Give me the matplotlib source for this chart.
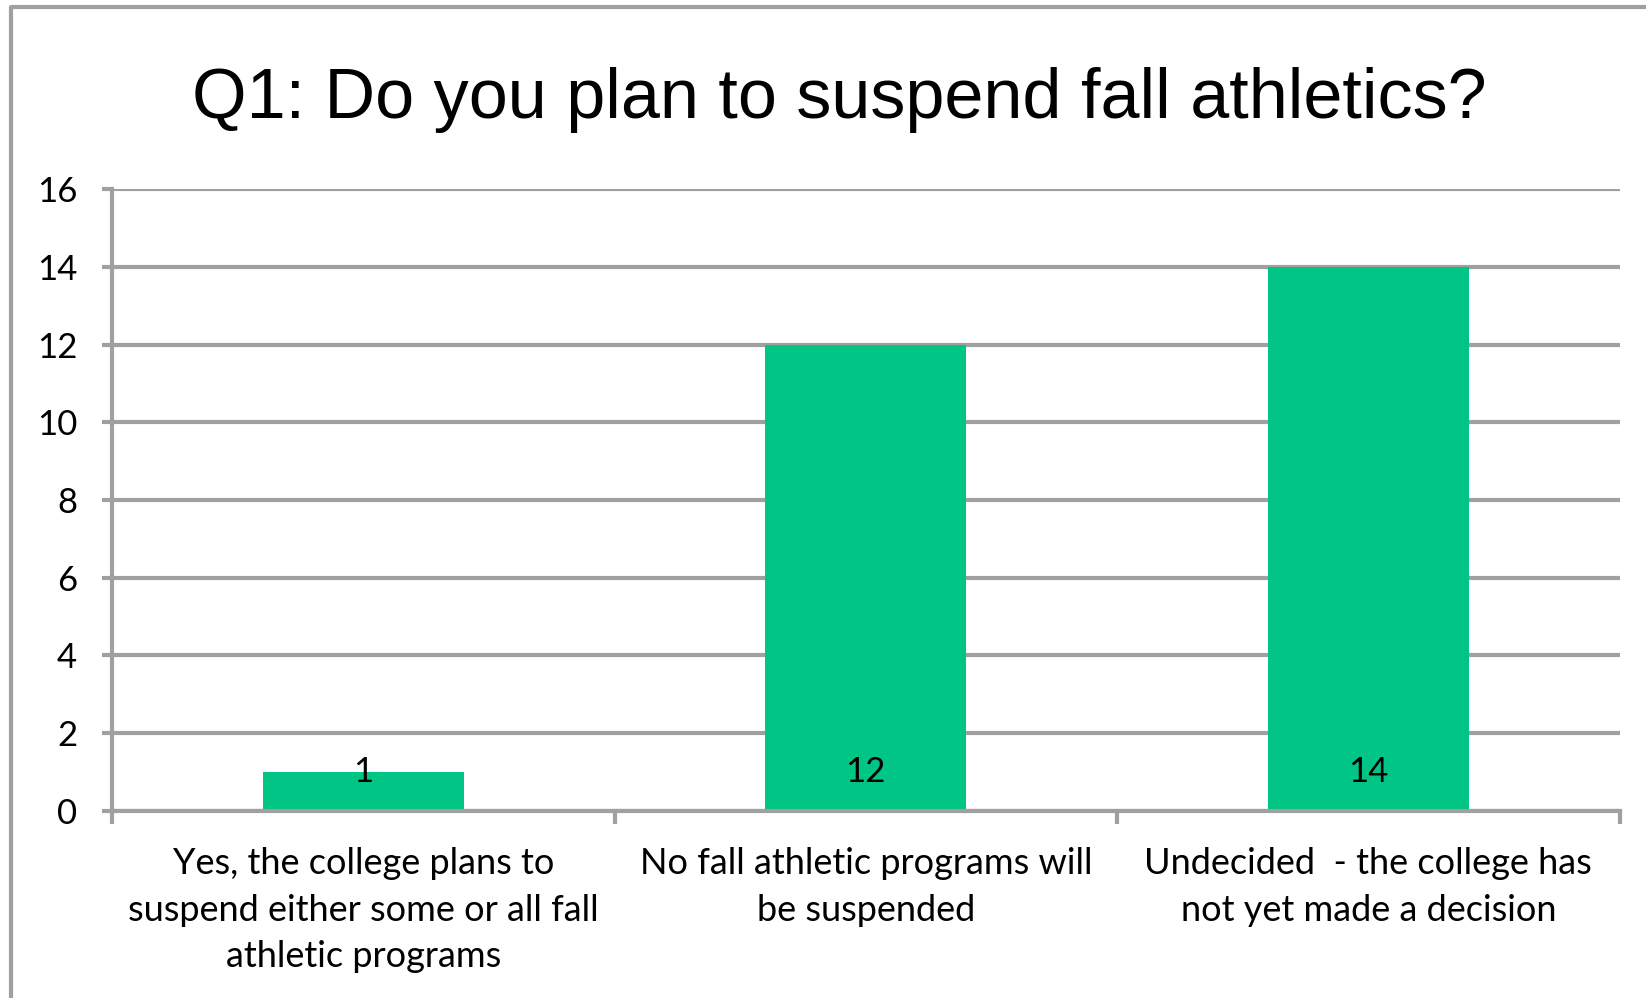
import matplotlib
matplotlib.use("Agg")
import matplotlib.pyplot as plt
from matplotlib.lines import Line2D

categories = [
    "Yes, the college plans to\nsuspend either some or all fall\nathletic programs",
    "No fall athletic programs will\nbe suspended",
    "Undecided  - the college has\nnot yet made a decision",
]
counts = [1, 12, 14]
y_ticks = [0, 2, 4, 6, 8, 10, 12, 14, 16]

GREEN = "#00c584"
GREY = "#a0a0a0"
LABEL_FONT = ["Lato", "DejaVu Sans"]

fig = plt.figure(figsize=(16.46, 9.98), dpi=100)
ax = fig.add_axes([0.068, 0.1874, 0.916, 0.6232])

x = list(range(len(categories)))
ax.bar(x, counts, width=0.4, color=GREEN, zorder=3)
ax.set_xlim(-0.5, len(categories) - 0.5)
ax.set_ylim(0, 16)

# gridlines
ax.set_yticks(y_ticks)
ax.yaxis.grid(True, color=GREY, linewidth=3, zorder=1)
ax.set_axisbelow(True)

for s in ["top", "right"]:
    ax.spines[s].set_visible(False)
for s in ["left", "bottom"]:
    ax.spines[s].set_color(GREY)
    ax.spines[s].set_linewidth(3)
    ax.spines[s].set_zorder(4)

ax.tick_params(axis="y", which="major", length=7, width=3, color=GREY,
               pad=18, labelsize=25)
for lab in ax.get_yticklabels():
    lab.set_family(LABEL_FONT)

# category boundaries as major ticks, labels on minor ticks at centres
ax.set_xticks([i - 0.5 for i in range(len(categories) + 1)])
ax.set_xticklabels([])
ax.tick_params(axis="x", which="major", length=9, width=3, color=GREY)
ax.set_xticks(x, minor=True)
ax.set_xticklabels(categories, minor=True, family=LABEL_FONT, fontsize=26,
                   linespacing=1.5)
ax.tick_params(axis="x", which="minor", length=0, pad=26)

# value labels near the base of each bar
for xi, v in zip(x, counts):
    ax.annotate(str(v), (xi, 0), xytext=(0, 28), textcoords="offset points",
                ha="center", va="center", fontsize=25, family=LABEL_FONT,
                zorder=5)

fig.text(0.510, 0.882, "Q1: Do you plan to suspend fall athletics?",
         ha="center", va="baseline", fontsize=50.5,
         family=["Liberation Sans", "DejaVu Sans"])

# outer chart frame (left and top edges visible)
fx = 11 / 1646
fy = 1 - 7 / 998
fig.add_artist(Line2D([fx, fx, 1.0], [0.0, fy, fy], transform=fig.transFigure,
                      color=GREY, linewidth=3))

fig.savefig("out.png", dpi=100)
